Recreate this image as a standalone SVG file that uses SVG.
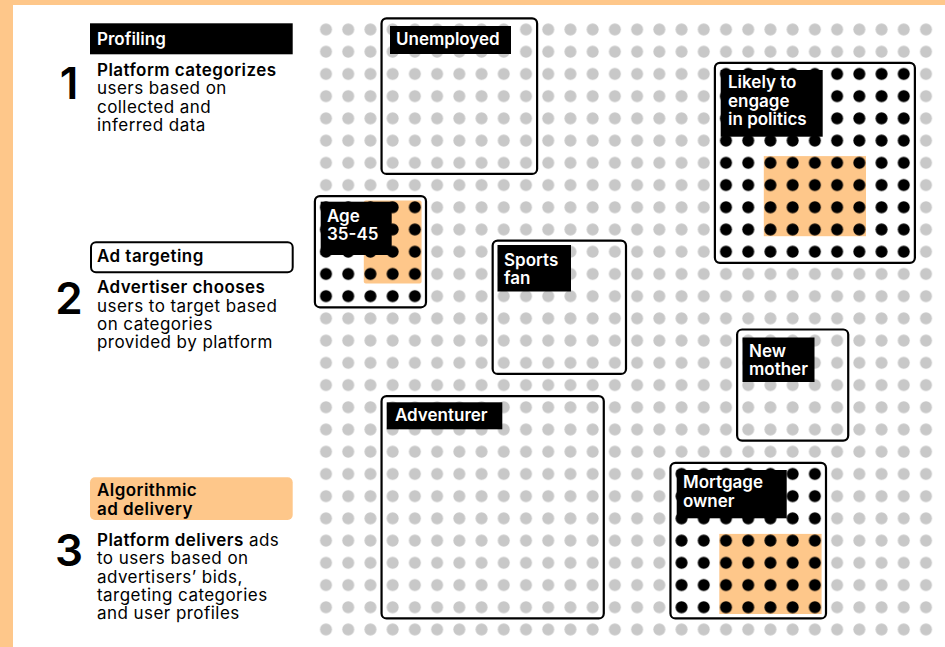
<svg xmlns="http://www.w3.org/2000/svg" width="945" height="647" viewBox="0 0 945 647">
<defs>
<style>
.lab{font-family:Inter,"Liberation Sans",sans-serif;font-size:17px;font-weight:600;fill:#fff}
.body{font-family:Inter,"Liberation Sans",sans-serif;font-size:17px;font-weight:400;fill:#000;letter-spacing:0.45px}
.b{font-weight:600}
.num{font-family:Inter,"Liberation Sans",sans-serif;font-size:44px;font-weight:600;fill:#000;text-anchor:middle}
.box{fill:none;stroke:#000;stroke-width:2.2}
.tag{fill:#000}
.or{fill:#fec78a}
</style>
<pattern id="gdots" patternUnits="userSpaceOnUse" x="314.889" y="18.389" width="22.2222" height="22.2222">
<circle cx="11.1111" cy="11.1111" r="6" fill="#c8c8c8"/>
</pattern>
<pattern id="bdots" patternUnits="userSpaceOnUse" x="314.889" y="18.389" width="22.2222" height="22.2222">
<circle cx="11.1111" cy="11.1111" r="6" fill="#000"/>
</pattern>
</defs>
<rect width="945" height="647" fill="#fff"/>
<rect x="0" y="0" width="945" height="5" class="or"/>
<rect x="0" y="0" width="13" height="647" class="or"/>
<rect id="grid" x="314.889" y="18.389" width="622.222" height="622.222" fill="url(#gdots)"/>

<g id="step1">
<rect x="90" y="23.3" width="202.7" height="31" fill="#000"/>
<text class="lab" x="97" y="45">Profiling</text>
<text class="num" x="69" y="99">1</text>
<text class="body" x="97" y="76"><tspan class="b">Platform categorizes</tspan><tspan x="97" dy="18.3">users based on</tspan><tspan x="97" dy="18.3">collected and</tspan><tspan x="97" dy="18.3">inferred data</tspan></text>
</g>
<g id="step2">
<rect x="91" y="242.3" width="201.7" height="30" rx="5" fill="#fff" stroke="#000" stroke-width="2"/>
<text class="body b" x="97" y="262">Ad targeting</text>
<text class="num" x="69" y="313.5">2</text>
<text class="body" x="97" y="293.3"><tspan class="b">Advertiser chooses</tspan><tspan x="97" dy="18.3">users to target based</tspan><tspan x="97" dy="18.3">on categories</tspan><tspan x="97" dy="18.3">provided by platform</tspan></text>
</g>
<g id="step3">
<rect x="90" y="477.3" width="202.7" height="42.7" rx="5" class="or"/>
<text class="body b" x="97" y="496">Algorithmic</text>
<text class="body b" x="97" y="515">ad delivery</text>
<text class="num" x="69" y="566">3</text>
<text class="body" x="97" y="546"><tspan class="b">Platform delivers</tspan> ads<tspan x="97" dy="18.3">to users based on</tspan><tspan x="97" dy="18.3">advertisers’ bids,</tspan><tspan x="97" dy="18.3">targeting categories</tspan><tspan x="97" dy="18.3">and user profiles</tspan></text>
</g>

<g id="unemployed">
<rect class="box" x="381.556" y="18.389" width="155.556" height="155.556" rx="5"/>
<rect class="tag" x="390" y="26" width="121" height="28"/>
<text class="lab" x="396" y="45">Unemployed</text>
</g>

<g id="politics">
<rect x="714.889" y="62.833" width="200" height="200" fill="#fff"/>
<rect class="or" x="763.8" y="156.1" width="102.2" height="80.1"/>
<rect x="714.889" y="62.833" width="200" height="200" fill="url(#bdots)"/>
<rect class="tag" x="720.7" y="70" width="102" height="66.7"/>
<text class="lab" x="728" y="88.3">Likely to</text>
<text class="lab" x="728" y="106.6">engage</text>
<text class="lab" x="728" y="124.9">in politics</text>
<rect class="box" x="714.889" y="62.833" width="200" height="200" rx="5"/>
</g>

<g id="age">
<rect x="314.889" y="196.167" width="111.111" height="111.111" fill="#fff"/>
<rect class="or" x="363.8" y="200.6" width="57.8" height="83" rx="2"/>
<rect x="314.889" y="196.167" width="111.111" height="111.111" fill="url(#bdots)"/>
<rect class="tag" x="320.7" y="201.7" width="71" height="53.3"/>
<text class="lab" x="327" y="221.7">Age</text>
<text class="lab" x="327" y="240">35-45</text>
<rect class="box" x="314.889" y="196.167" width="111.111" height="111.111" rx="5"/>
</g>

<g id="sports">
<rect class="box" x="492.667" y="240.611" width="133.333" height="133.333" rx="5"/>
<rect class="tag" x="497.5" y="245" width="73.5" height="46.5"/>
<text class="lab" x="504" y="265.5">Sports</text>
<text class="lab" x="504" y="283.8">fan</text>
</g>

<g id="mother">
<rect class="box" x="737.111" y="329.5" width="111.111" height="111.111" rx="5"/>
<rect class="tag" x="742.5" y="337.5" width="72" height="44.5"/>
<text class="lab" x="749" y="357">New</text>
<text class="lab" x="749" y="375.3">mother</text>
</g>

<g id="adventurer">
<rect class="box" x="381.556" y="396.167" width="222.222" height="222.222" rx="5"/>
<rect class="tag" x="386.7" y="402.3" width="115.6" height="27"/>
<text class="lab" x="395" y="420.7">Adventurer</text>
</g>

<g id="mortgage">
<rect x="670.444" y="462.833" width="155.556" height="155.556" fill="#fff"/>
<rect class="or" x="719.3" y="533.9" width="102.3" height="80.1"/>
<rect x="670.444" y="462.833" width="155.556" height="155.556" fill="url(#bdots)"/>
<rect class="tag" x="676.7" y="470" width="110" height="48.3"/>
<text class="lab" x="683" y="488.3">Mortgage</text>
<text class="lab" x="683" y="506.6">owner</text>
<rect class="box" x="670.444" y="462.833" width="155.556" height="155.556" rx="5"/>
</g>

<g id="connectors"/>
</svg>
